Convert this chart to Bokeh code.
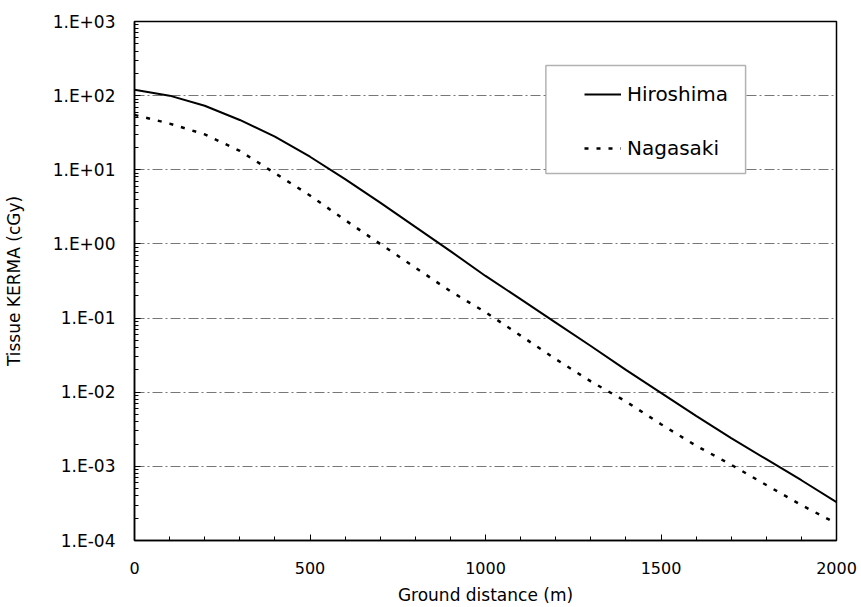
from bokeh.plotting import figure
from bokeh.models import (Range1d, FixedTicker, CustomJSTickFormatter, Legend, LegendItem,
                          BoxAnnotation)
from bokeh.embed import file_html
from bokeh.resources import INLINE

# Data (ground distance in m, tissue KERMA in cGy)
distance = [0, 100, 200, 300, 400, 500, 600, 700, 800, 900, 1000,
            1100, 1200, 1300, 1400, 1500, 1600, 1700, 1800, 1900, 2000]
hiroshima = [120, 100, 73, 47, 28, 15, 7.5, 3.6, 1.7, 0.8, 0.37,
             0.18, 0.087, 0.042, 0.02, 0.0098, 0.0048, 0.0024, 0.00125, 0.00065, 0.00033]
nagasaki = [55, 42, 30, 18, 9, 4.5, 2.1, 1.0, 0.48, 0.23, 0.12,
            0.058, 0.028, 0.014, 0.0075, 0.0037, 0.0019, 0.00105, 0.00056, 0.0003, 0.00017]

x_ticks = [0, 500, 1000, 1500, 2000]
x_minor = list(range(0, 2001, 100))
y_ticks = [1e-4, 1e-3, 1e-2, 1e-1, 1e0, 1e1, 1e2, 1e3]
y_minor = [m * d for d in y_ticks[:-1] for m in range(2, 10)]

FONT = "DejaVu Sans"

p = figure(width=861, height=607, y_axis_type="log",
           x_range=Range1d(0, 2000), y_range=Range1d(1e-4, 1e3),
           output_backend="svg", toolbar_location=None,
           min_border_left=133, min_border_right=25, min_border_top=21, min_border_bottom=67,
           background_fill_color="white", border_fill_color="white")

p.outline_line_color = "black"
p.outline_line_width = 1.5

# grid
p.xgrid.visible = False
p.ygrid.grid_line_color = "#777777"
p.ygrid.grid_line_dash = "10 3 2 3"
p.ygrid.grid_line_width = 1

# axes
p.xaxis.ticker = FixedTicker(ticks=x_ticks, minor_ticks=x_minor)
p.yaxis.ticker = FixedTicker(ticks=y_ticks, minor_ticks=y_minor)
p.yaxis.formatter = CustomJSTickFormatter(code="""
const e = Math.round(Math.log10(tick));
return "1.E" + (e < 0 ? "-" : "+") + String(Math.abs(e)).padStart(2, "0");
""")
for ax in (p.xaxis[0], p.yaxis[0]):
    ax.axis_line_color = "black"
    ax.axis_line_width = 1.5
    ax.major_tick_in = 6
    ax.major_tick_out = 0
    ax.minor_tick_in = 4
    ax.minor_tick_out = 0
    ax.major_tick_line_color = "black"
    ax.minor_tick_line_color = "black"
    ax.major_label_text_font = FONT
    ax.major_label_text_color = "#000000"
    ax.axis_label_text_font = FONT
    ax.axis_label_text_font_size = "17px"
    ax.axis_label_text_font_style = "normal"
    ax.axis_label_text_color = "#000000"
p.xaxis.major_label_text_font_size = "16px"
p.yaxis.major_label_text_font_size = "17px"

p.xaxis.axis_label = "Ground distance (m)"
p.yaxis.axis_label = "Tissue KERMA (cGy)"
p.xaxis.major_label_standoff = 21
p.yaxis.major_label_standoff = 19
p.xaxis.axis_label_standoff = 8
p.yaxis.axis_label_standoff = 26

r1 = p.line(distance, hiroshima, line_color="black", line_width=2)
r2 = p.line(distance, nagasaki, line_color="black", line_width=2.5, line_dash="4 8")

# legend frame (layout only)
legend_box = BoxAnnotation(left=1172, right=1741, bottom=8.9, top=255,
                           fill_color="white", fill_alpha=1,
                           line_color="black", line_width=1.5)
p.add_layout(legend_box)

legend = Legend(items=[LegendItem(label="Hiroshima", renderers=[r1]),
                       LegendItem(label="Nagasaki", renderers=[r2])],
                location=(450, 380),
                border_line_alpha=0, background_fill_alpha=0,
                label_text_font=FONT, label_text_font_size="20px",
                label_text_color="#000000",
                glyph_width=37, glyph_height=24, label_height=24,
                label_standoff=6, spacing=30, padding=0, margin=0)
p.add_layout(legend)

open("out.html", "w").write(file_html(p, INLINE))
